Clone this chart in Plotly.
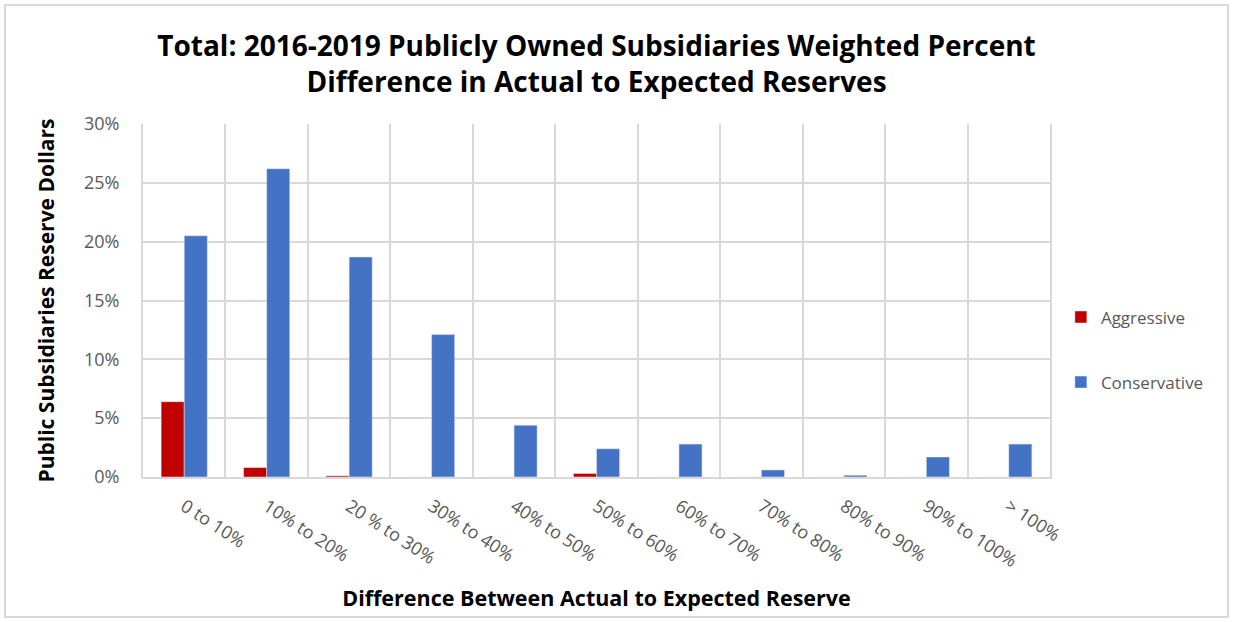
import plotly.graph_objects as go

categories = ["0 to 10%", "10% to 20%", "20 % to 30%", "30% to 40%", "40% to 50%",
              "50% to 60%", "60% to 70%", "70% to 80%", "80% to 90%", "90% to 100%", "> 100%"]
aggressive = [6.4, 0.8, 0.1, 0.0, 0.0, 0.3, 0.0, 0.0, 0.0, 0.0, 0.0]
conservative = [20.5, 26.2, 18.7, 12.1, 4.4, 2.4, 2.8, 0.6, 0.15, 1.7, 2.8]
y_ticks = [0, 5, 10, 15, 20, 25, 30]
y_tick_labels = ["0%", "5%", "10%", "15%", "20%", "25%", "30%"]

FONT = "Open Sans"
GRID = "#d9d9d9"
TXT = "#595959"

fig = go.Figure()
fig.add_trace(go.Bar(x=categories, y=aggressive, name="Aggressive",
                     marker_color="#C00000", legendgroup="a"))
fig.add_trace(go.Bar(x=categories, y=conservative, name="Conservative",
                     marker_color="#4472C4", legendgroup="c"))

fig.update_layout(
    width=1233, height=622,
    paper_bgcolor="white", plot_bgcolor="white",
    margin=dict(l=143, r=183, t=124, b=145),
    barmode="group", bargap=0.44, bargroupgap=0,
    font=dict(family=FONT, color=TXT),
    title=dict(
        text="Total: 2016-2019 Publicly Owned Subsidiaries Weighted Percent<br>Difference in Actual to Expected Reserves",
        x=(143 + 1050) / 2 / 1233, xanchor="center", y=0.91, yanchor="top",
        font=dict(family=FONT, size=28, color="black", weight="bold"),
    ),
    legend=dict(x=1.012, xanchor="left", y=0.36, yanchor="middle",
                font=dict(size=17, color=TXT), tracegroupgap=40,
                traceorder="grouped", bgcolor="rgba(0,0,0,0)"),
    showlegend=True,
)
fig.update_xaxes(
    type="category", tickson="boundaries", showgrid=True, gridcolor=GRID, gridwidth=2,
    ticks="", tickangle=33, tickfont=dict(size=18, color=TXT), ticklabelstandoff=10,
    showline=True, linecolor=GRID, linewidth=2,
    title=dict(text="Difference Between Actual to Expected Reserve",
               font=dict(size=21.5, color="black", weight="bold"), standoff=20),
)
fig.update_yaxes(
    range=[0, 30], tickvals=y_ticks, ticktext=y_tick_labels,
    showgrid=True, gridcolor=GRID, gridwidth=2, zeroline=False,
    showline=True, mirror=True, linecolor=GRID, linewidth=2,
    ticks="", tickfont=dict(size=18, color=TXT), ticklabelstandoff=18,
    title=dict(text="Public Subsidiaries Reserve Dollars",
               font=dict(size=21, color="black", weight="bold"), standoff=24),
)
# outer frame around the chart
fig.add_shape(type="rect", xref="paper", yref="paper",
              x0=-138 / 907, x1=(1228 - 143) / 907,
              y0=-(617 - 477) / 353, y1=(477 - 5) / 353,
              line=dict(color="#d9d9d9", width=2), fillcolor="rgba(0,0,0,0)", layer="below")

fig.write_html("out.html")
